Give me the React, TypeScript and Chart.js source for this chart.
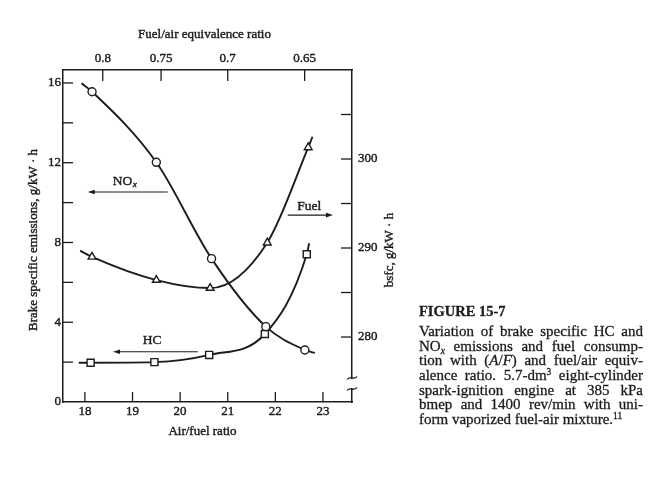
import React, { useEffect, useRef } from "react";
import { Chart, registerables } from "chart.js";

Chart.register(...registerables);

const INK = "#1c1c1c";
const FONT = "'Liberation Serif', 'DejaVu Serif', 'Times New Roman', serif";

// ---- axis ranges / ticks ----
const AF_MIN = 17.54;
const AF_MAX = 23.61;
const EMI_MIN = 0;
const EMI_MAX = 16.65;
const BSFC_MIN = 272.7;
const BSFC_MAX = 310.0;
const AF_STOICH = 14.7; // A/F = AF_STOICH / phi

const afTicks = [18, 19, 20, 21, 22, 23];
const phiTicks = [0.8, 0.75, 0.7, 0.65];
const phiLabels = ["0.8", "0.75", "0.7", "0.65"];
const emissionTicks = [0, 2, 4, 6, 8, 10, 12, 14, 16];
const emissionLabels = ["0", "", "4", "", "8", "", "12", "", "16"];
const bsfcTicks = [280, 285, 290, 295, 300, 305];
const bsfcLabels = ["280", "", "290", "", "300", ""];

// ---- axis titles ----
const titleBottom = "Air/fuel ratio";
const titleTop = "Fuel/air equivalence ratio";
const titleLeft = "Brake specific emissions, g/kW \u00b7 h";
const titleRight = "bsfc, g/kW \u00b7 h";

// ---- series (first / last entries are the unmarked curve ends) ----
const noxAF = [17.93, 18.15, 19.5, 20.66, 21.8, 22.62, 22.83];
const noxValues = [15.98, 15.56, 12.02, 7.19, 3.78, 2.61, 2.46];
const noxMarked = [false, true, true, true, true, true, false];

const hcAF = [17.87, 18.12, 19.46, 20.61, 21.78, 22.66, 22.71];
const hcValues = [1.97, 1.97, 2.0, 2.36, 3.41, 7.41, 7.96];
const hcMarked = [false, true, true, true, true, true, false];

const fuelAF = [17.9, 18.15, 19.5, 20.63, 21.83, 22.69, 22.78];
const fuelValues = [289.7, 289.0, 286.4, 285.5, 290.6, 301.3, 302.5];
const fuelMarked = [false, true, true, true, true, true, false];

// ---- in-plot labels with arrows (data coordinates) ----
const annotations = [
  { text: "NO", sub: "x", axis: "y", x: 18.84, y: 11.08, from: 19.74, to: 18.06, arrowY: 10.53 },
  { text: "Fuel", sub: "", axis: "y1", x: 22.71, y: 294.7, from: 22.26, to: 23.21, arrowY: 293.7 },
  { text: "HC", sub: "", axis: "y", x: 19.41, y: 3.11, from: 20.37, to: 18.59, arrowY: 2.52 },
];

const captionTitle = "FIGURE 15-7";

function inkText(ctx: any, text: string, x: number, y: number) {
  ctx.fillText(text, x, y);
  ctx.strokeText(text, x, y);
}

const decorPlugin = {
  id: "decor",
  afterDatasetsDraw(chart: any) {
    const { ctx, chartArea: a, scales } = chart;
    ctx.save();
    ctx.strokeStyle = INK;
    ctx.lineWidth = 1.3;
    const L = 10;
    const seg = (x1: number, y1: number, x2: number, y2: number) => {
      ctx.beginPath();
      ctx.moveTo(x1, y1);
      ctx.lineTo(x2, y2);
      ctx.stroke();
    };
    scales.y.ticks.forEach((t: any) => {
      const p = scales.y.getPixelForValue(t.value);
      if (p < a.bottom - 1) seg(a.left, p, a.left + L, p);
    });
    scales.y1.ticks.forEach((t: any) => {
      const p = scales.y1.getPixelForValue(t.value);
      seg(a.right, p, a.right - L - 1, p);
    });
    scales.x.ticks.forEach((t: any) => {
      const p = scales.x.getPixelForValue(t.value);
      seg(p, a.bottom, p, a.bottom - L);
    });
    scales.x2.ticks.forEach((t: any) => {
      const p = scales.x2.getPixelForValue(t.value);
      seg(p, a.top, p, a.top + L + 1);
    });

    // annotations
    ctx.fillStyle = INK;
    annotations.forEach((an) => {
      const ys = scales[an.axis];
      const cx = scales.x.getPixelForValue(an.x);
      const cy = ys.getPixelForValue(an.y);
      ctx.font = `13.5px ${FONT}`;
      const w1 = ctx.measureText(an.text).width;
      ctx.font = `italic 9px ${FONT}`;
      const w2 = an.sub ? ctx.measureText(an.sub).width + 1 : 0;
      const sx = cx - (w1 + w2) / 2;
      ctx.textBaseline = "middle";
      ctx.textAlign = "left";
      ctx.lineWidth = 0.4;
      ctx.font = `13.5px ${FONT}`;
      inkText(ctx, an.text, sx, cy);
      if (an.sub) {
        ctx.font = `italic 9px ${FONT}`;
        inkText(ctx, an.sub, sx + w1 + 0.5, cy + 4);
      }
      ctx.lineWidth = 1.1;
      const x1 = scales.x.getPixelForValue(an.from);
      const x2 = scales.x.getPixelForValue(an.to);
      const ay = ys.getPixelForValue(an.arrowY);
      const dir = Math.sign(x2 - x1);
      seg(x1, ay, x2 - dir * 5, ay);
      ctx.beginPath();
      ctx.moveTo(x2, ay);
      ctx.lineTo(x2 - dir * 7, ay - 2.3);
      ctx.lineTo(x2 - dir * 7, ay + 2.3);
      ctx.closePath();
      ctx.fill();
    });
    ctx.restore();
  },
  afterDraw(chart: any) {
    const { ctx, chartArea: a } = chart;
    ctx.save();
    // axis break on the right axis
    const bx = a.right;
    const yb1 = a.bottom - 24;
    const yb2 = a.bottom - 13;
    ctx.fillStyle = "#fff";
    ctx.fillRect(bx - 3, yb1 + 1, 6, yb2 - yb1 - 2);
    ctx.strokeStyle = INK;
    ctx.lineWidth = 1.3;
    [yb1, yb2].forEach((y) => {
      ctx.beginPath();
      ctx.moveTo(bx - 5, y + 1.5);
      ctx.bezierCurveTo(bx - 2, y - 3, bx + 2, y + 3, bx + 5, y - 1.5);
      ctx.stroke();
    });

    // axis titles
    ctx.fillStyle = INK;
    ctx.lineWidth = 0.4;
    ctx.font = `13px ${FONT}`;
    ctx.textAlign = "center";
    ctx.textBaseline = "middle";
    const midX = (a.left + a.right) / 2;
    const midY = (a.top + a.bottom) / 2;
    inkText(ctx, titleTop, midX - 3, a.top - 35);
    inkText(ctx, titleBottom, midX - 5, a.bottom + 30);

    ctx.save();
    ctx.translate(a.left - 29, midY + 4);
    ctx.rotate(-Math.PI / 2);
    inkText(ctx, titleLeft, 0, 0);
    ctx.restore();

    ctx.save();
    ctx.translate(a.right + 38, midY + 14);
    ctx.rotate(-Math.PI / 2);
    inkText(ctx, titleRight, 0, 0);
    ctx.restore();

    ctx.restore();
  },
};

function series(xs: number[], ys: number[]) {
  return xs.map((x, i) => ({ x, y: ys[i] }));
}

export default function App() {
  const ref = useRef<HTMLCanvasElement | null>(null);

  useEffect(() => {
    if (!ref.current) return;
    Chart.defaults.font.family = FONT;
    Chart.defaults.color = INK;
    const common = {
      borderColor: INK,
      borderWidth: 1.9,
      pointBackgroundColor: "#ffffff",
      pointBorderColor: INK,
      pointBorderWidth: 1.4,
      cubicInterpolationMode: "monotone" as const,
      fill: false,
      xAxisID: "x",
    };
    const tickBase = {
      font: { size: 13 },
      color: INK,
      autoSkip: false,
      maxRotation: 0,
      textStrokeColor: INK,
      textStrokeWidth: 0.4,
    };
    const grid = { drawOnChartArea: false, drawTicks: false };
    const border = { display: true, color: INK, width: 1.5 };
    const chart = new Chart(ref.current, {
      type: "line",
      data: {
        datasets: [
          {
            ...common,
            label: "NOx",
            data: series(noxAF, noxValues),
            yAxisID: "y",
            pointStyle: "circle",
            pointRadius: noxMarked.map((m) => (m ? 4 : 0)),
          },
          {
            ...common,
            label: "Fuel",
            data: series(fuelAF, fuelValues),
            yAxisID: "y1",
            pointStyle: "triangle",
            pointRadius: fuelMarked.map((m) => (m ? 4.5 : 0)),
          },
          {
            ...common,
            label: "HC",
            data: series(hcAF, hcValues),
            yAxisID: "y",
            pointStyle: "rect",
            pointRadius: hcMarked.map((m) => (m ? 5 : 0)),
          },
        ] as any,
      },
      options: {
        animation: false,
        responsive: true,
        maintainAspectRatio: false,
        layout: { padding: 0 },
        plugins: { legend: { display: false }, tooltip: { enabled: false } },
        scales: {
          x: {
            type: "linear",
            position: "bottom",
            min: AF_MIN,
            max: AF_MAX,
            afterBuildTicks: (s: any) => {
              s.ticks = afTicks.map((v) => ({ value: v }));
            },
            afterFit: (s: any) => {
              s.height = 48;
            },
            ticks: { ...tickBase, padding: 2 },
            grid,
            border,
          },
          x2: {
            type: "linear",
            position: "top",
            min: AF_MIN,
            max: AF_MAX,
            afterBuildTicks: (s: any) => {
              s.ticks = phiTicks.map((p) => ({ value: AF_STOICH / p }));
            },
            afterFit: (s: any) => {
              s.height = 70;
            },
            ticks: { ...tickBase, padding: 4, callback: (_v: any, i: number) => phiLabels[i] },
            grid,
            border,
          },
          y: {
            type: "linear",
            position: "left",
            min: EMI_MIN,
            max: EMI_MAX,
            afterBuildTicks: (s: any) => {
              s.ticks = emissionTicks.map((v) => ({ value: v }));
            },
            afterFit: (s: any) => {
              s.width = 63;
            },
            ticks: { ...tickBase, padding: 2, callback: (_v: any, i: number) => emissionLabels[i] },
            grid,
            border,
          },
          y1: {
            type: "linear",
            position: "right",
            min: BSFC_MIN,
            max: BSFC_MAX,
            afterBuildTicks: (s: any) => {
              s.ticks = bsfcTicks.map((v) => ({ value: v }));
            },
            afterFit: (s: any) => {
              s.width = 68;
            },
            ticks: { ...tickBase, padding: 6, callback: (_v: any, i: number) => bsfcLabels[i] },
            grid,
            border,
          },
        },
      } as any,
      plugins: [decorPlugin],
    });
    return () => chart.destroy();
  }, []);

  const lineStyle: React.CSSProperties = {
    height: "14.67px",
    lineHeight: "14.67px",
    textAlign: "justify",
    textAlignLast: "justify" as any,
  };
  const sub: React.CSSProperties = { fontSize: "9.5px", lineHeight: 0, verticalAlign: "-3px", fontStyle: "italic" };
  const sup: React.CSSProperties = { fontSize: "9.5px", lineHeight: 0, verticalAlign: "5px" };

  return (
    <div
      style={{
        position: "fixed",
        left: 0,
        top: 0,
        width: 653,
        height: 477,
        background: "#ffffff",
        color: INK,
        fontFamily: FONT,
      }}
    >
      <div style={{ position: "absolute", left: 0, top: 0, width: 420, height: 450 }}>
        <canvas ref={ref} />
      </div>
      <div
        style={{
          position: "absolute",
          left: 419,
          top: 302,
          width: 224,
          fontSize: "15px",
          WebkitTextStroke: "0.3px " + INK,
        }}
      >
        <div style={{ fontWeight: "bold", height: "22px", lineHeight: "18px", fontSize: "14.5px" }}>
          {captionTitle}
        </div>
        <div style={lineStyle}>Variation of brake specific HC and</div>
        <div style={lineStyle}>
          NO<span style={sub}>x</span> emissions and fuel consump-
        </div>
        <div style={lineStyle}>
          tion with (<i>A</i>/<i>F</i>) and fuel/air equiv-
        </div>
        <div style={lineStyle}>
          alence ratio. 5.7-dm<span style={sup}>3</span> eight-cylinder
        </div>
        <div style={lineStyle}>spark-ignition engine at 385 kPa</div>
        <div style={lineStyle}>bmep and 1400 rev/min with uni-</div>
        <div style={{ ...lineStyle, textAlignLast: "left" as any, textAlign: "left" }}>
          form vaporized fuel-air mixture.<span style={sup}>11</span>
        </div>
      </div>
    </div>
  );
}
